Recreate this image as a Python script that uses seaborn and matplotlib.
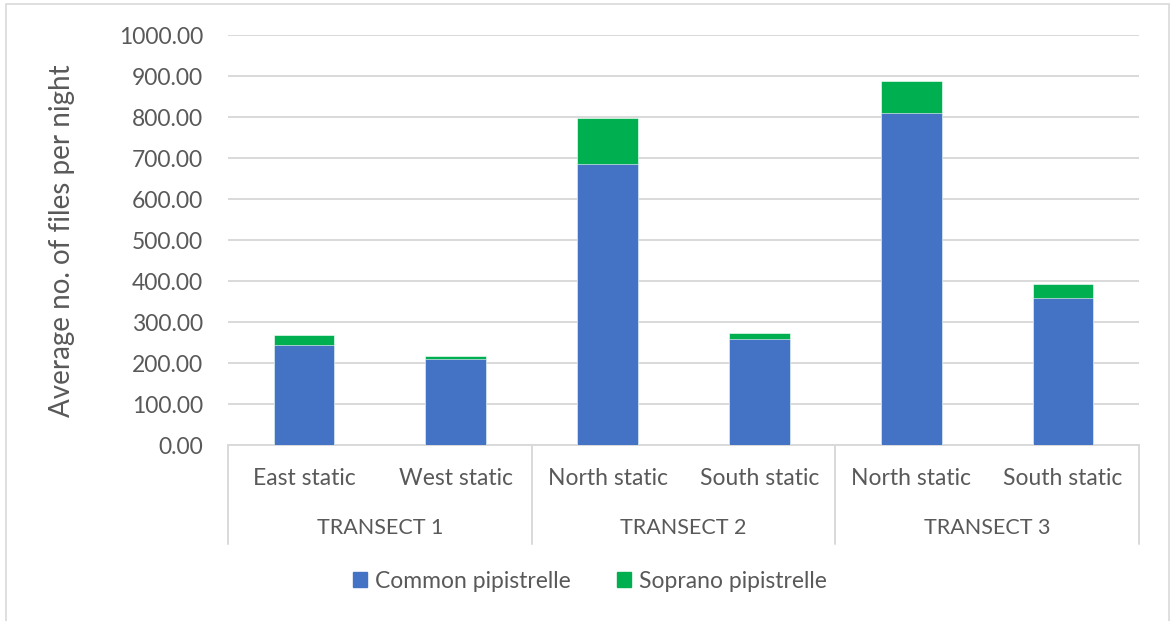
import matplotlib
matplotlib.use("Agg")
import matplotlib.pyplot as plt
import matplotlib.patches as mpatches
import matplotlib.transforms as mtransforms
import numpy as np
import pandas as pd
import seaborn as sns

# Survey data: average number of bat call files recorded per night
sites = ["East static", "West static", "North static", "South static", "North static", "South static"]
transects = ["TRANSECT 1", "TRANSECT 1", "TRANSECT 2", "TRANSECT 2", "TRANSECT 3", "TRANSECT 3"]
common_pipistrelle = [244, 210, 687, 259, 810, 360]
soprano_pipistrelle = [24, 7, 111, 15, 79, 33]
y_ticks = [0, 100, 200, 300, 400, 500, 600, 700, 800, 900, 1000]

BLUE = "#4472C4"
GREEN = "#00B050"
TEXT = "#595959"
GRID = "#D9D9D9"

sns.set_theme(style="white")
plt.rcParams["font.family"] = ["Lato", "DejaVu Sans"]

keys = [f"{t} | {s}" for t, s in zip(transects, sites)]
df = pd.DataFrame({
    "key": keys,
    "common": common_pipistrelle,
    "total": np.array(common_pipistrelle) + np.array(soprano_pipistrelle),
})

fig = plt.figure(figsize=(11.7, 6.21), dpi=100)
ax = fig.add_axes([228 / 1170, 1 - 445.3 / 621, 911 / 1170, 410 / 621])

# Stacked bars: total height in green, common pipistrelle portion over it in blue
sns.barplot(data=df, x="key", y="total", color=GREEN, width=0.4, ax=ax,
            saturation=1, edgecolor="white", linewidth=0.4, zorder=3)
sns.barplot(data=df, x="key", y="common", color=BLUE, width=0.4, ax=ax,
            saturation=1, edgecolor="white", linewidth=0.4, zorder=4)

ax.set_xlim(-0.5, len(keys) - 0.5)
ax.set_ylim(0, 1000)
ax.set_yticks(y_ticks)
ax.set_yticklabels([f"{v:.2f}" for v in y_ticks], color=TEXT, fontsize=16.5)
ax.tick_params(axis="y", length=0, pad=18)
ax.set_xticks([])
ax.set_xlabel("")
ax.set_ylabel("")
ax.yaxis.grid(True, color=GRID, linewidth=1.4, zorder=0)
ax.set_axisbelow(True)
for side in ["top", "right", "left"]:
    ax.spines[side].set_visible(False)
ax.spines["bottom"].set_color(GRID)
ax.spines["bottom"].set_linewidth(1.4)

# Two-level category axis
trans = mtransforms.blended_transform_factory(ax.transData, ax.transAxes)
for i, s in enumerate(sites):
    ax.text(i, -0.08, s, transform=trans, ha="center", va="center",
            fontsize=16.5, color=TEXT)
groups = list(dict.fromkeys(transects))
for g in groups:
    idx = [i for i, t in enumerate(transects) if t == g]
    ax.text(np.mean(idx), -0.202, g, transform=trans, ha="center", va="center",
            fontsize=15.5, color=TEXT)
bounds = [-0.5] + [i + 0.5 for i in range(len(transects) - 1)
                   if transects[i] != transects[i + 1]] + [len(transects) - 0.5]
for b in bounds:
    ax.plot([b, b], [0, -0.241], transform=trans, color=GRID, linewidth=1.4,
            clip_on=False)

fig.text(62 / 1170, 1 - 241 / 621, "Average no. of files per night", rotation=90,
         ha="center", va="center", fontsize=20, color=TEXT)

# Legend
handles = [mpatches.Patch(color=BLUE, label="Common pipistrelle"),
           mpatches.Patch(color=GREEN, label="Soprano pipistrelle")]
fig.legend(handles=handles, loc="center", bbox_to_anchor=(590 / 1170, 1 - 581 / 621),
           ncol=2, frameon=False, fontsize=16.5, labelcolor=TEXT,
           handlelength=0.6, handleheight=0.6, handletextpad=0.35, columnspacing=2.0)

# Chart border
fig.patches.append(mpatches.Rectangle((6 / 1170, -0.02), 1163 / 1170, 1.02 - 3.5 / 621,
                                      transform=fig.transFigure, fill=False,
                                      edgecolor=GRID, linewidth=1.2))

fig.savefig("out.png", dpi=100, facecolor="white")
